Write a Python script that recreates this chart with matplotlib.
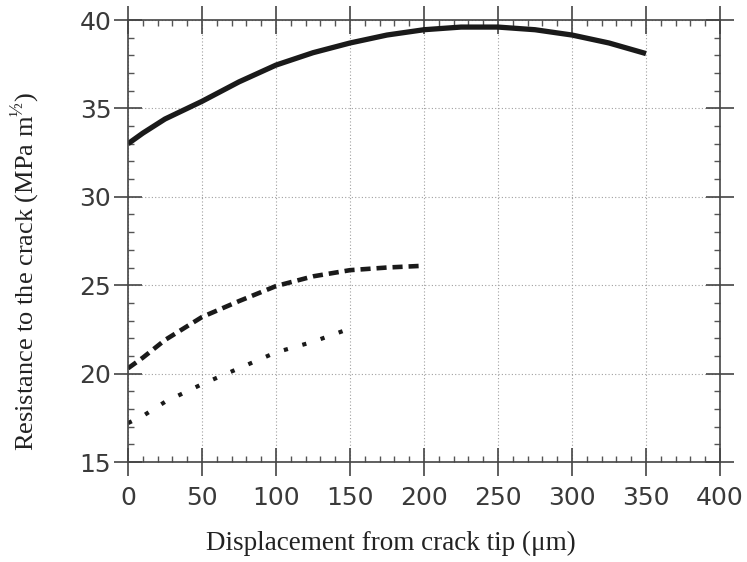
import matplotlib
matplotlib.use("Agg")
import matplotlib.pyplot as plt
from matplotlib.ticker import MultipleLocator

# Data
solid_x = [0, 10, 25, 50, 75, 100, 125, 150, 175, 200, 225, 250, 275, 300, 325, 350]
solid_y = [33.0, 33.6, 34.4, 35.4, 36.5, 37.45, 38.15, 38.7, 39.15, 39.45, 39.6, 39.6, 39.45, 39.15, 38.7, 38.1]

dash_x = [0, 10, 25, 50, 75, 100, 125, 150, 175, 200]
dash_y = [20.3, 20.9, 21.9, 23.2, 24.1, 24.95, 25.5, 25.85, 26.0, 26.1]

dot_x = [0, 10, 25, 50, 75, 100, 125, 145]
dot_y = [17.2, 17.6, 18.4, 19.4, 20.3, 21.2, 21.8, 22.4]

xticks = [0, 50, 100, 150, 200, 250, 300, 350, 400]
yticks = [15, 20, 25, 30, 35, 40]

fig = plt.figure(figsize=(7.47, 5.62), dpi=100)
ax = fig.add_axes([128/747, 1-462/562, (720-128)/747, (462-20)/562])

ax.plot(solid_x, solid_y, color="#1a1a1a", lw=3.8, solid_capstyle="butt")
ax.plot(dash_x, dash_y, color="#1a1a1a", lw=3.3, linestyle=(0, (2.2, 1.3)))
ax.plot(dot_x, dot_y, color="#1a1a1a", lw=3.0, linestyle=(0, (1.0, 3.6)))

ax.set_xlim(0, 400)
ax.set_ylim(15, 40)
ax.set_xticks(xticks)
ax.set_yticks(yticks)
ax.xaxis.set_minor_locator(MultipleLocator(10))
ax.yaxis.set_minor_locator(MultipleLocator(1))

ax.grid(True, which="major", color="#a0a0a0", linestyle=(0, (1, 2)), lw=0.8)

for s in ax.spines.values():
    s.set_color("#444444")
    s.set_linewidth(1.2)

ax.tick_params(which="major", direction="inout", length=20, width=1.2, color="#444444",
               top=True, right=True, labelsize=18, labelcolor="#3a3a3a")
ax.tick_params(axis="x", which="major", pad=7)
ax.tick_params(axis="y", which="major", pad=2)
ax.tick_params(which="minor", direction="in", length=4, width=1.0, color="#555555",
               top=True, right=True)
for lab in ax.get_xticklabels() + ax.get_yticklabels():
    lab.set_family("DejaVu Sans")

ax.set_xlabel("Displacement from crack tip (\u03bcm)", family="Liberation Serif",
              fontsize=19.5, color="#222222")
ax.set_ylabel("Resistance to the crack (MPa m$^{\\mathregular{\u00bd}}$)", family="Liberation Serif",
              fontsize=19, color="#222222")
ax.xaxis.label.set_va("center")
ax.yaxis.label.set_va("center")
ax.xaxis.set_label_coords((391 - 128) / 592, (462 - 543) / 442)
ax.yaxis.set_label_coords((25 - 128) / 592, (462 - 271) / 442)

fig.savefig("out.png", dpi=100)
